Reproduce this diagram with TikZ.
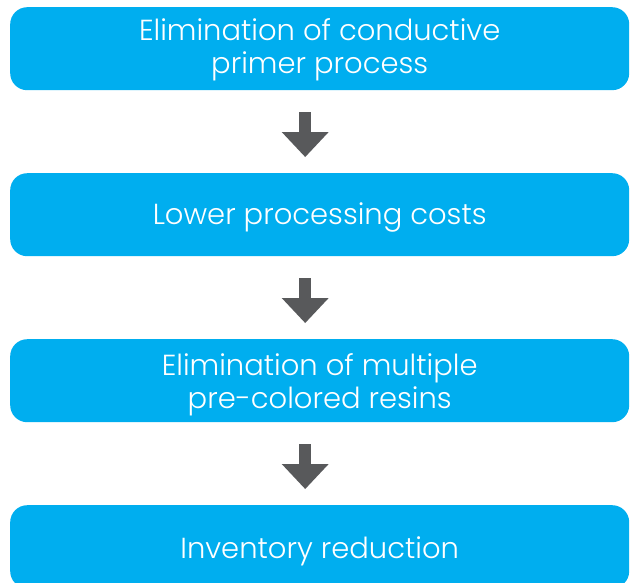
\documentclass[tikz,border=0pt]{standalone}
\usepackage{fontspec}
\setmainfont{Poppins Light}
\usetikzlibrary{arrows.meta}
\definecolor{boxblue}{HTML}{00AEEF}
\definecolor{arrowgray}{HTML}{58595B}
\tikzset{
  flowbox/.style={fill=boxblue, draw=none, rounded corners=17pt, minimum width=619pt, minimum height=83pt, inner sep=0pt, anchor=north west},
  lbl/.style={text=white, align=center, inner sep=0pt, anchor=base, font=\fontsize{29}{33}\selectfont},
  flowarrow/.style={draw=arrowgray, line width=12pt, -{Triangle[length=25pt,width=47pt,line width=0pt]}}
}
\begin{document}
\begin{tikzpicture}[x=1pt,y=-1pt]
\useasboundingbox (0,0) rectangle (630,582);
\clip (0,0) rectangle (630,582);
\node[flowbox] (b1) at (10,7) {};
\node[flowbox] (b2) at (10,173) {};
\node[flowbox] (b3) at (10,339) {};
\node[flowbox] (b4) at (10,505) {};
\node[lbl] (t1) at ([yshift=-24.5pt]b1.center) {Elimination of conductive\\primer process};
\node[lbl] (t2) at ([yshift=-9.5pt]b2.center) {Lower processing costs};
\node[lbl] (t3) at ([yshift=-27.5pt]b3.center) {Elimination of multiple\\pre-colored resins};
\node[lbl] (t4) at ([yshift=-11.5pt]b4.center) {Inventory reduction};
\foreach \a/\b [count=\i] in {b1/b2,b2/b3,b3/b4}{
  \coordinate (s\i) at ([xshift=-14.5pt,yshift=-22pt]\a.south);
  \coordinate (e\i) at ([xshift=-14.5pt,yshift=16pt]\b.north);
  \draw[flowarrow] (s\i) -- (e\i);
}
\end{tikzpicture}
\end{document}
